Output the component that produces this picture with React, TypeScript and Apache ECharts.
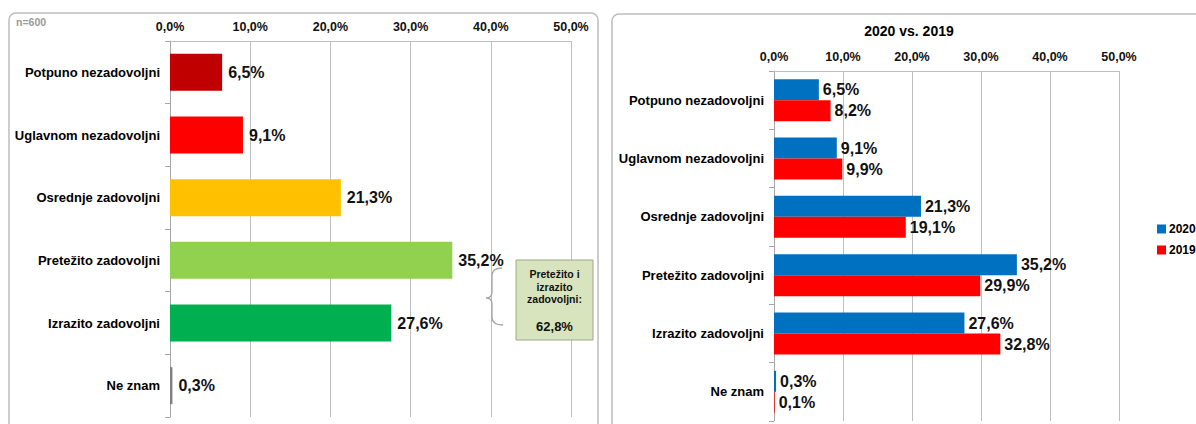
import React, { useEffect, useRef } from "react";
import * as echarts from "echarts";

const categories = [
  "Potpuno nezadovoljni",
  "Uglavnom nezadovoljni",
  "Osrednje zadovoljni",
  "Pretežito zadovoljni",
  "Izrazito zadovoljni",
  "Ne znam",
];
const values2020 = [6.5, 9.1, 21.3, 35.2, 27.6, 0.3];
const values2019 = [8.2, 9.9, 19.1, 29.9, 32.8, 0.1];
const leftColors = ["#C00000", "#FF0000", "#FFC000", "#92D050", "#00B050", "#7F7F7F"];
const seriesNames = ["2020", "2019"];
const seriesColors = ["#0070C0", "#FF0000"];
const sampleNote = "n=600";
const rightTitle = "2020 vs. 2019";
const annotationLines = ["Pretežito i", "izrazito", "zadovoljni:"];
const annotationValue = "62,8%";

const FONT = "'Liberation Sans', Arial, sans-serif";
const fmt = (v: number) => v.toFixed(1).replace(".", ",") + "%";

echarts.graphic.registerShape(
  "brace",
  echarts.graphic.extendPath(
    "M 502 268 Q 492 268 492 276 L 492 292 Q 492 298 486 298 Q 492 298 492 304 L 492 317 Q 492 325 503 325",
    {}
  )
);

export default function App() {
  const ref = useRef<HTMLDivElement>(null);
  useEffect(() => {
    if (!ref.current) return;
    const chart = echarts.init(ref.current, undefined, { renderer: "svg" });
    const axisLabelX = { fontFamily: FONT, fontWeight: "bold" as const, fontSize: 12.5, color: "#111", margin: 8, formatter: (v: number) => fmt(v) };
    const axisLabelY = { fontFamily: FONT, fontWeight: "bold" as const, fontSize: 13, color: "#000", margin: 10 };
    const gridLine = { lineStyle: { color: "#BFBFBF", width: 1 } };
    const valueLabel = (dist: number) => ({
      show: true,
      position: "right" as const,
      distance: dist,
      fontFamily: FONT,
      fontWeight: "bold" as const,
      fontSize: 16,
      color: "#111",
      formatter: (p: any) => fmt(p.value),
    });
    chart.setOption({
      animation: false,
      backgroundColor: "#fff",
      grid: [
        { left: 170, top: 41, width: 401, height: 376 },
        { left: 774, top: 71, width: 345, height: 350 },
      ],
      legend: {
        orient: "vertical",
        left: 1152,
        top: 218,
        itemWidth: 9,
        itemHeight: 9,
        itemGap: 9,
        icon: "rect",
        textStyle: { fontFamily: FONT, fontWeight: "bold", fontSize: 12, color: "#000", padding: [0, 0, 0, -2] },
        data: seriesNames,
      },
      xAxis: [0, 1].map((i) => ({
        type: "value",
        gridIndex: i,
        position: "top",
        min: 0,
        max: 50,
        interval: 10,
        axisLine: { show: true, lineStyle: { color: "#BFBFBF" } },
        axisTick: { show: false },
        splitLine: { show: true, ...gridLine },
        axisLabel: axisLabelX,
      })),
      yAxis: [0, 1].map((i) => ({
        type: "category",
        gridIndex: i,
        inverse: true,
        data: categories,
        axisLine: { show: true, lineStyle: { color: "#A6A6A6" } },
        axisTick: { show: true, length: 5, lineStyle: { color: "#A6A6A6" } },
        axisLabel: axisLabelY,
      })),
      series: [
        {
          type: "bar",
          xAxisIndex: 0,
          yAxisIndex: 0,
          barWidth: 37,
          data: values2020.map((v, i) => ({ value: v, itemStyle: { color: leftColors[i] } })),
          label: valueLabel(6),
        },
        ...seriesNames.map((name, k) => ({
          type: "bar",
          name,
          xAxisIndex: 1,
          yAxisIndex: 1,
          barWidth: 21,
          barGap: "0%",
          itemStyle: { color: seriesColors[k] },
          data: k === 0 ? values2020 : values2019,
          label: valueLabel(4),
        })),
      ],
      graphic: [
        {
          type: "rect",
          silent: true,
          z: -1,
          shape: { x: 9, y: 13, width: 589, height: 420, r: 7 },
          style: { fill: "none", stroke: "#BDBDBD", lineWidth: 1.5 },
        },
        {
          type: "rect",
          silent: true,
          z: -1,
          shape: { x: 612, y: 14, width: 620, height: 420, r: 7 },
          style: { fill: "none", stroke: "#BDBDBD", lineWidth: 1.5 },
        },
        {
          type: "text",
          x: 16,
          y: 22,
          style: { text: sampleNote, fontFamily: FONT, fontSize: 10.5, fontWeight: "bold", fill: "#9A9A9A", verticalAlign: "middle" },
        },
        {
          type: "text",
          x: 909,
          y: 31,
          style: { text: rightTitle, fontFamily: FONT, fontSize: 14, fontWeight: "bold", fill: "#000", align: "center", verticalAlign: "middle" },
        },
        {
          type: "brace",
          x: 0,
          y: 0,
          z: 100,
          style: { fill: "none", stroke: "#A6A6A6", lineWidth: 1.3 },
        },
        {
          type: "rect",
          z: 100,
          shape: { x: 516, y: 260, width: 77, height: 80 },
          style: { fill: "#D7E4BD", stroke: "#A0A88A", lineWidth: 1 },
        },
        ...annotationLines.map((t, i) => ({
          type: "text",
          z: 101,
          x: 554.5,
          y: 274 + i * 12.7,
          style: { text: t, fontFamily: FONT, fontSize: 10.5, fontWeight: "bold", fill: "#111", align: "center", verticalAlign: "middle" },
        })),
        {
          type: "text",
          z: 101,
          x: 554.5,
          y: 326,
          style: { text: annotationValue, fontFamily: FONT, fontSize: 13, fontWeight: "bold", fill: "#111", align: "center", verticalAlign: "middle" },
        },
      ],
    });
    return () => chart.dispose();
  }, []);
  return <div ref={ref} style={{ position: "fixed", left: 0, top: 0, width: 1196, height: 424 }} />;
}
